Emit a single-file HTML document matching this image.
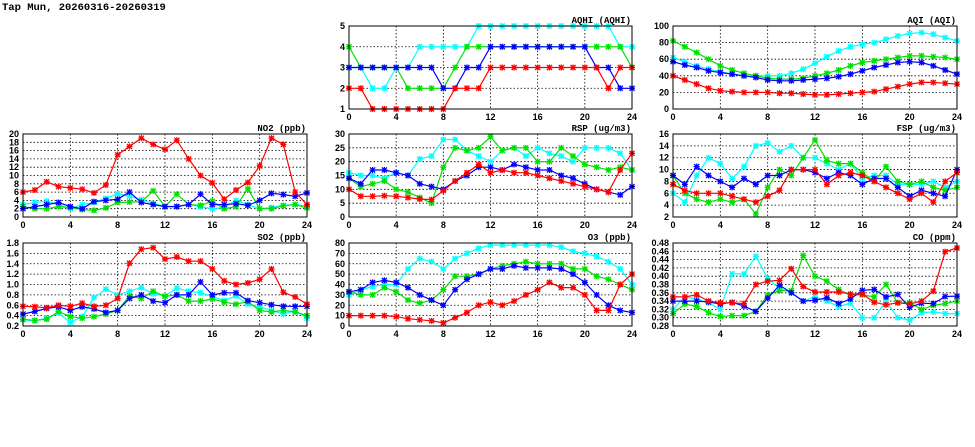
<!DOCTYPE html>
<html><head><meta charset="utf-8"><style>
html,body{margin:0;padding:0;background:#fff;width:975px;height:447px;overflow:hidden}
svg text{font-family:"Liberation Sans",sans-serif;font-weight:bold;font-size:9px}
</style></head><body>
<svg id="s" width="975" height="447" xmlns="http://www.w3.org/2000/svg">
<text x="2" y="10" style="font-size:10.5px;font-family:'Liberation Mono',monospace">Tap Mun, 20260316-20260319</text>
</svg>
<script>
const C={r:'#ff0000',g:'#00e000',b:'#0000ff',c:'#00ffff'};
const P=[
{x:349,y:26,w:283,h:83,min:1,max:5,step:1,dec:0,t:'AQHI (AQHI)',d:{
c:[3,3,2,2,3,3,4,4,4,4,4,5,5,5,5,5,5,5,5,5,5,5,5,4,4],
g:[4,3,3,3,3,2,2,2,2,3,4,4,4,4,4,4,4,4,4,4,4,4,4,4,3],
b:[3,3,3,3,3,3,3,3,2,2,3,3,4,4,4,4,4,4,4,4,4,3,3,2,2],
r:[2,2,1,1,1,1,1,1,1,2,2,2,3,3,3,3,3,3,3,3,3,3,2,3,3]}},
{x:673,y:26,w:284,h:83,min:0,max:100,step:20,dec:0,t:'AQI (AQI)',d:{
c:[62,57,52,48,45,42,40,40,40,40,43,48,55,63,70,75,78,80,84,88,91,92,90,86,82],
g:[82,75,68,60,52,47,43,40,37,36,36,37,40,43,47,52,56,58,60,62,64,64,63,62,60],
b:[57,53,50,46,44,42,40,38,35,34,34,35,36,37,39,42,46,50,53,56,57,56,52,47,42],
r:[40,35,30,25,22,21,20,20,20,19,19,18,17,17,18,19,20,21,24,27,30,32,32,31,30]}},
{x:23,y:134,w:284,h:83,min:0,max:20,step:2,dec:0,t:'NO2 (ppb)',d:{
c:[3,3.5,3.8,3,2,3,3.5,4.5,5.6,5,4.2,3.3,2.6,2.6,3,2.5,2,2.3,4,3,2,2.3,2.8,3,2.6],
g:[2.5,2,2,2.5,2.3,1.8,1.6,2.2,3.5,3.6,3.7,6.3,2.5,5.5,3,2.8,3.8,2,2.5,6.8,2,2,2.7,3,2.2],
b:[2,2.5,3,3.5,2.5,2,3.7,4,4.3,6,3.5,3,2.5,2.5,3,5.5,3,3,3.2,2.8,4,5.7,5.4,5,5.8],
r:[6,6.5,8.5,7.3,7,6.7,5.8,7.7,15,17,19,17.5,16.3,18.5,14,10,8.2,4.3,6.5,8.3,12.3,19,17.5,6,3]}},
{x:349,y:134,w:283,h:83,min:0,max:30,step:5,dec:0,t:'RSP (ug/m3)',d:{
c:[16,15,15,14,16,15,21,22,28,28,24,22,20,24,25,22,25,23,22,20,25,25,25,23,17],
g:[14,11,12,13,10,9,7,5,18,25,24,25,29,24,25,25,20,20,25,22,19,18,17,18,17],
b:[14,12,17,17,16,15,12,11,10,13,15,18,18,17,19,18,17,17,15,14,12,10,9,8,11],
r:[10,7.5,7.5,7.7,7.5,7,6.5,6.3,9.5,13,16,19,16,17,16,16,15,14,13,12,11,10,9,17,23]}},
{x:673,y:134,w:284,h:83,min:2,max:16,step:2,dec:0,t:'FSP (ug/m3)',d:{
c:[6,4.5,9,12,11,8.5,10.5,14,14.5,13,14,12,12,11,10,11,8.5,9,9,7.5,7.5,7.5,8,7,8],
g:[9,6,5,4.5,5,4.5,5,2.5,7,10,9,12,15,11.5,11,11,9.5,8,10.5,8,7.5,8,7,6.5,7],
b:[9,7.5,10.5,9,8,7,8.5,7.5,9,9,10,10,9.5,8.5,9.5,9,7.5,8.5,8.5,7,5.5,6.5,6,5.5,10],
r:[7.5,6.5,6,6,6,5.5,5,4.5,5.5,6.5,10,10,10,7.5,9,9.5,9,8,7,6,5,6,4.5,8,9.5]}},
{x:23,y:243,w:284,h:83,min:0.2,max:1.8,step:0.2,dec:1,t:'SO2 (ppb)',d:{
c:[.32,.3,.35,.45,.27,.38,.75,.91,.8,.87,.94,.82,.78,.93,.87,.84,.77,.69,.78,.62,.57,.5,.43,.5,.35],
g:[.33,.31,.33,.48,.38,.35,.38,.43,.5,.78,.73,.87,.77,.8,.68,.68,.72,.66,.62,.67,.5,.47,.5,.47,.4],
b:[.43,.48,.54,.57,.5,.57,.53,.46,.5,.73,.8,.68,.65,.8,.8,1.05,.8,.84,.84,.69,.65,.61,.58,.58,.58],
r:[.58,.57,.55,.6,.58,.64,.58,.6,.73,1.41,1.68,1.71,1.49,1.53,1.45,1.45,1.3,1.07,1.0,1.03,1.1,1.3,.85,.76,.62]}},
{x:349,y:243,w:283,h:83,min:0,max:80,step:10,dec:0,t:'O3 (ppb)',d:{
c:[30,35,38,40,40,55,65,62,55,65,70,75,78,78,78,78,78,78,76,72,70,67,62,55,40],
g:[33,30,30,37,33,25,22,25,35,48,48,50,55,58,60,62,60,60,60,55,55,48,45,40,35],
b:[33,35,42,44,42,37,30,25,20,35,45,50,55,55,58,56,56,56,55,50,42,30,20,15,13],
r:[10,10,10,10,9,7,6,5,3,8,13,20,23,20,24,30,35,42,37,37,30,15,15,40,50]}},
{x:673,y:243,w:284,h:83,min:0.28,max:0.48,step:0.02,dec:2,t:'CO (ppm)',d:{
c:[.32,.35,.345,.336,.32,.406,.405,.448,.395,.37,.36,.34,.35,.34,.327,.335,.3,.3,.34,.3,.294,.312,.314,.31,.31],
g:[.31,.333,.327,.312,.303,.305,.305,.315,.355,.365,.365,.45,.4,.388,.368,.355,.355,.35,.38,.336,.336,.32,.33,.334,.34],
b:[.34,.34,.34,.338,.333,.337,.328,.315,.347,.378,.36,.34,.342,.348,.334,.345,.366,.368,.35,.356,.325,.335,.334,.351,.352],
r:[.35,.35,.355,.34,.336,.336,.334,.38,.388,.39,.418,.375,.362,.362,.362,.357,.357,.337,.331,.336,.333,.34,.364,.459,.468]}}
];
let o='';
for(const p of P){
 const X=i=>p.x+p.w*i/24, Y=v=>p.y+p.h*(1-(v-p.min)/(p.max-p.min));
 const n=Math.round((p.max-p.min)/p.step);
 for(let k=0;k<=n;k++){const v=p.min+k*p.step,y=Y(v);
  if(k>0&&k<n)o+=`<line x1="${p.x}" y1="${y}" x2="${p.x+p.w}" y2="${y}" stroke="#000" stroke-width="0.8" stroke-dasharray="1.5,2"/>`;
  o+=`<text x="${p.x-4}" y="${y+3}" text-anchor="end">${v.toFixed(p.dec)}</text>`;}
 for(let h=0;h<=24;h+=4){const x=X(h);
  if(h>0&&h<24)o+=`<line x1="${x}" y1="${p.y}" x2="${x}" y2="${p.y+p.h}" stroke="#000" stroke-width="0.8" stroke-dasharray="1.5,2"/>`;
  o+=`<text x="${x}" y="${p.y+p.h+11}" text-anchor="middle">${h}</text>`;}
 for(const s of ['c','g','b','r']){const a=p.d[s];
  o+=`<polyline fill="none" stroke="${C[s]}" stroke-width="1.2" points="${a.map((v,i)=>X(i).toFixed(1)+','+Y(v).toFixed(1)).join(' ')}"/>`;
  for(let i=0;i<a.length;i++){const x=X(i),y=Y(a[i]);
   o+=`<path d="M${x-2.5} ${y-2.5}L${x+2.5} ${y+2.5}M${x-2.5} ${y+2.5}L${x+2.5} ${y-2.5}M${x-3} ${y}H${x+3}M${x} ${y-3}V${y+3}" stroke="${C[s]}" stroke-width="1.3"/>`;}}
 o+=`<rect x="${p.x}" y="${p.y}" width="${p.w}" height="${p.h}" fill="none" stroke="#000" stroke-width="1"/>`;
 o+=`<text x="${p.x+p.w-1}" y="${p.y-3}" text-anchor="end" style="font-family:'Liberation Mono',monospace">${p.t}</text>`;
}
document.getElementById('s').insertAdjacentHTML('beforeend',o);
</script>
</body></html>
